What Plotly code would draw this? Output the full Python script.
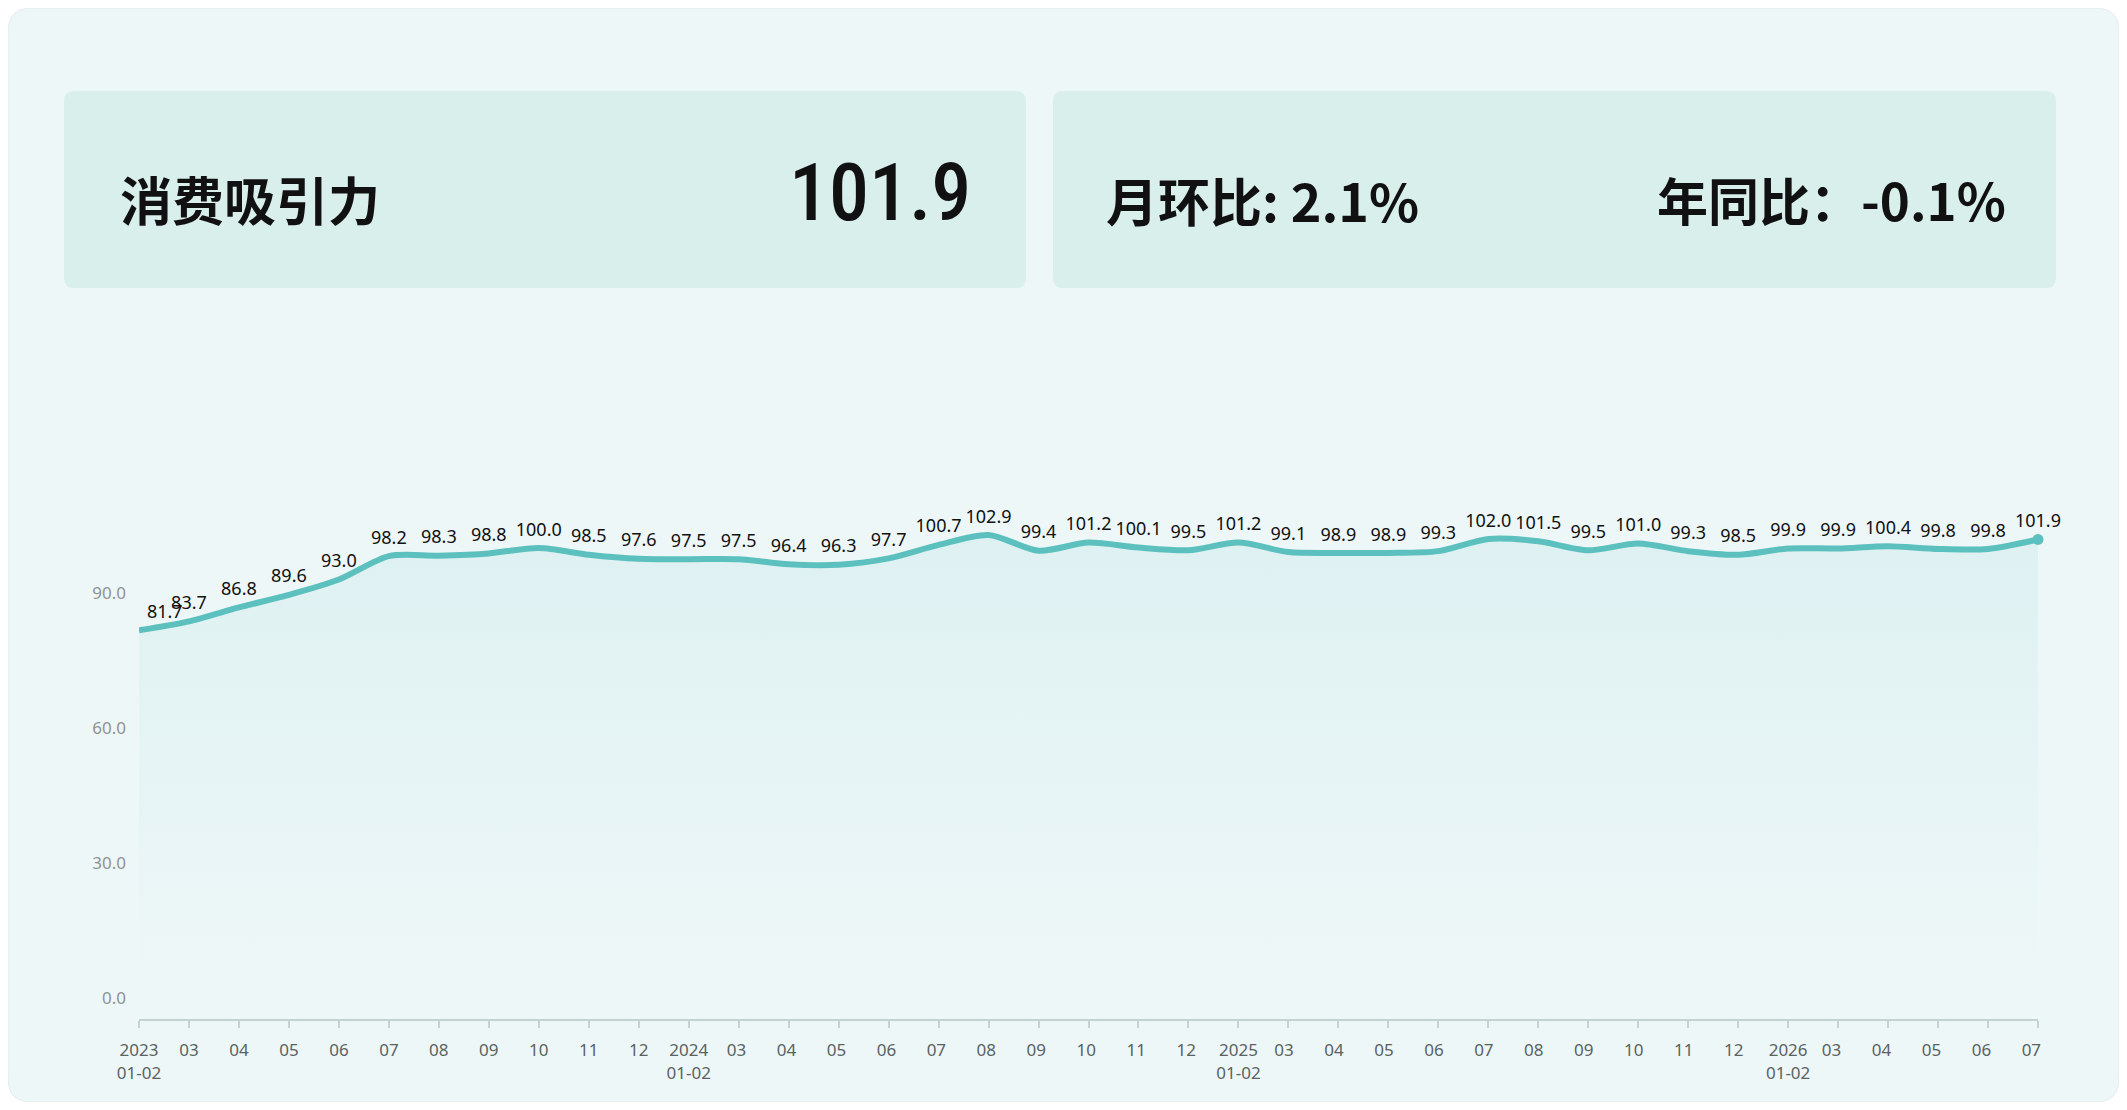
import plotly.graph_objects as go

# ---------------- data ----------------
categories = [
    "2023<br>01-02", "03", "04", "05", "06", "07", "08", "09", "10", "11", "12",
    "2024<br>01-02", "03 ", "04 ", "05 ", "06 ", "07 ", "08 ", "09 ", "10 ", "11 ", "12 ",
    "2025<br>01-02", "03  ", "04  ", "05  ", "06  ", "07  ", "08  ", "09  ", "10  ", "11  ", "12  ",
    "2026<br>01-02", "03   ", "04   ", "05   ", "06   ", "07   ",
]
values = [
    81.7, 83.7, 86.8, 89.6, 93.0, 98.2, 98.3, 98.8, 100.0, 98.5, 97.6,
    97.5, 97.5, 96.4, 96.3, 97.7, 100.7, 102.9, 99.4, 101.2, 100.1, 99.5,
    101.2, 99.1, 98.9, 98.9, 99.3, 102.0, 101.5, 99.5, 101.0, 99.3, 98.5,
    99.9, 99.9, 100.4, 99.8, 99.8, 101.9,
]
y_ticks = [0, 30, 60, 90]
title_text = "消费吸引力"
current_value = "101.9"
mom_text = "月环比: 2.1%"
yoy_text = "年同比：-0.1%"

# page is 2127x1110; the html body adds an 8px margin
PAGE_W, PAGE_H = 2127, 1110
OFF = 8
W, H = PAGE_W - 2 * OFF, PAGE_H - 2 * OFF
LINE = "#5CC0BE"
BG = "#EEF7F8"
CARD = "#D9EFEC"


def px(x):
    return (x - OFF) / W


def py(y):
    return 1 - (y - OFF) / H


def rrect_fig(X0, Y0, X1, Y1, r):
    """rounded rect in figure-pixel coords -> paper path"""
    rx, ry = r / W, r / H
    a, b = X0 / W, X1 / W
    t, u = 1 - Y0 / H, 1 - Y1 / H
    return (f"M {a+rx},{t} L {b-rx},{t} Q {b},{t} {b},{t-ry} "
            f"L {b},{u+ry} Q {b},{u} {b-rx},{u} L {a+rx},{u} "
            f"Q {a},{u} {a},{u+ry} L {a},{t-ry} Q {a},{t} {a+rx},{t} Z")


def rrect(x0, y0, x1, y1, r):
    return rrect_fig(x0 - OFF, y0 - OFF, x1 - OFF, y1 - OFF, r)


n = len(values)
xs = list(range(n))
positions = ["top center"] * n
positions[0] = "top right"
mopacity = [0] * n
mopacity[-1] = 1

fig = go.Figure()
fig.add_trace(go.Scatter(
    x=xs, y=values,
    mode="lines+markers+text",
    line=dict(color=LINE, width=6, shape="spline", smoothing=0.8),
    marker=dict(size=11, color=LINE, opacity=mopacity, line=dict(width=0)),
    fill="tozeroy",
    fillgradient=dict(type="vertical",
                      colorscale=[[0, "rgba(92,192,190,0.0)"], [1, "rgba(92,192,190,0.11)"]]),
    text=[f"{v:.1f}" for v in values],
    textposition=positions,
    textfont=dict(family="Noto Sans, DejaVu Sans", size=18, color="#111111"),
    cliponaxis=False,
    hoverinfo="skip",
    showlegend=False,
))

shapes = [
    dict(type="path", xref="paper", yref="paper", path=rrect_fig(0, 0, W, H, 24),
         fillcolor=BG, line=dict(color="#E2ECEC", width=1), layer="below"),
    dict(type="path", xref="paper", yref="paper", path=rrect(64, 91, 1026, 288, 10),
         fillcolor=CARD, line=dict(width=0), layer="below"),
    dict(type="path", xref="paper", yref="paper", path=rrect(1053, 91, 2056, 288, 10),
         fillcolor=CARD, line=dict(width=0), layer="below"),
]

cjk = "Noto Sans CJK SC"
annotations = [
    dict(text=f"<b>{title_text}</b>", x=px(118), y=py(198), xref="paper", yref="paper",
         xanchor="left", yanchor="middle", showarrow=False,
         font=dict(family=cjk, size=52, color="#111111")),
    dict(text=current_value, x=px(973), y=py(193), xref="paper", yref="paper",
         xanchor="right", yanchor="middle", showarrow=False,
         font=dict(family="Roboto Condensed, Noto Sans",
                   size=80, weight=500, color="#111111")),
    dict(text=f"<b>{mom_text}</b>", x=px(1104), y=py(199), xref="paper", yref="paper",
         xanchor="left", yanchor="middle", showarrow=False,
         font=dict(family=cjk, size=52, color="#111111")),
    dict(text=f"<b>{yoy_text}</b>", x=px(2008), y=py(199), xref="paper", yref="paper",
         xanchor="right", yanchor="middle", showarrow=False,
         font=dict(family=cjk, size=51, color="#111111")),
]

fig.update_layout(
    width=W, height=H,
    margin=dict(l=0, r=0, t=0, b=0),
    paper_bgcolor="white",
    plot_bgcolor="rgba(0,0,0,0)",
    shapes=shapes,
    annotations=annotations,
    xaxis=dict(
        domain=[px(139), px(2038)],
        range=[0, n - 1],
        tickmode="array", tickvals=xs, ticktext=categories,
        showgrid=False, zeroline=False,
        showline=True, linecolor="#C3D3D2", linewidth=2,
        ticks="outside", ticklen=7, tickcolor="#C3D3D2", tickwidth=1.5,
        tickfont=dict(family="Noto Sans, DejaVu Sans", size=17, color="#5A6262"),
        ticklabelstandoff=8,
        automargin=False,
    ),
    yaxis=dict(
        domain=[py(1019), py(494)],
        range=[-4.67, 112],
        tickmode="array", tickvals=y_ticks, tickformat=".1f",
        showgrid=False, zeroline=False, showline=False,
        tickfont=dict(family="Noto Sans, DejaVu Sans", size=17, color="#8C9494"),
        ticklabelstandoff=12,
        automargin=False,
    ),
)

fig.write_html("out.html")
